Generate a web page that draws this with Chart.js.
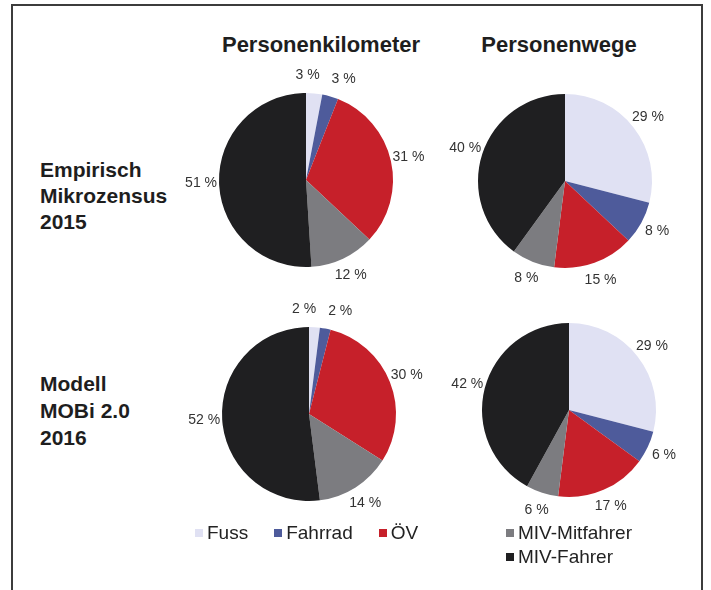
<!DOCTYPE html>
<html>
<head>
<meta charset="utf-8">
<script src="https://cdn.jsdelivr.net/npm/chart.js@4"></script>
<style>
  html, body { margin: 0; padding: 0; background: #fff; }
  body { width: 711px; height: 590px; position: relative; overflow: hidden; font-family: "Liberation Sans", Arial, sans-serif; color: #222; }
  .frame { position: absolute; left: 11px; top: 4px; width: 692px; height: 600px; border: 2px solid #3c3c3c; box-sizing: border-box; }
  .title { position: absolute; top: 32px; font-weight: bold; font-size: 22px; line-height: 26px; white-space: nowrap; transform: translateX(-50%); color: #1e1e1e; }
  .rowlab { position: absolute; left: 40px; font-weight: bold; font-size: 21px; line-height: 26px; color: #1e1e1e; }
  canvas { position: absolute; }
  .leg { position: absolute; font-size: 19px; line-height: 24px; white-space: nowrap; display: flex; align-items: center; color: #222; }
  .leg .item { display: flex; align-items: center; margin-right: 26px; }
  .leg .sw { width: 8px; height: 8px; margin-right: 4px; display: inline-block; }
  .legcol { flex-direction: column; align-items: flex-start; }
  .legcol .item { margin-right: 0; }
</style>
</head>
<body>
<div class="frame"></div>
<div id="t0" class="title" style="left:321px">Personenkilometer</div>
<div id="t1" class="title" style="left:559px">Personenwege</div>
<div class="rowlab" style="top:157px">Empirisch<br>Mikrozensus<br>2015</div>
<div class="rowlab" style="top:370px;line-height:27px">Modell<br>MOBi 2.0<br>2016</div>
<canvas id="c0" width="280" height="280" style="left:166px;top:40px"></canvas>
<canvas id="c1" width="280" height="280" style="left:425px;top:41px"></canvas>
<canvas id="c2" width="280" height="280" style="left:169px;top:274px"></canvas>
<canvas id="c3" width="280" height="280" style="left:429px;top:270px"></canvas>
<div id="legL" class="leg" style="left:195px;top:521px"></div>
<div id="legR" class="leg legcol" style="left:506px;top:521px"></div>
<script>
// Categories and colours
const categories = ["Fuss", "Fahrrad", "ÖV", "MIV-Mitfahrer", "MIV-Fahrer"];
const colors = ["#e0e1f3", "#4e5b9b", "#c6202a", "#7c7c80", "#1f1f21"];

// Values (%)
const pkmEmpirisch = [3, 3, 31, 12, 51];
const wegeEmpirisch = [29, 8, 15, 8, 40];
const pkmModell = [2, 2, 30, 14, 52];
const wegeModell = [29, 6, 17, 6, 42];

const pieRadius = 87;

const labelPlugin = {
  id: 'outsideLabels',
  afterDatasetsDraw(chart) {
    const ctx = chart.ctx;
    const meta = chart.getDatasetMeta(0);
    const data = chart.data.datasets[0].data;
    ctx.save();
    ctx.font = '14px "Liberation Sans", Arial, sans-serif';
    ctx.fillStyle = '#333';
    ctx.textAlign = 'center';
    ctx.textBaseline = 'middle';
    const boxes = meta.data.map((arc, i) => {
      const p = arc.getProps(['x', 'y', 'startAngle', 'endAngle', 'outerRadius'], true);
      const mid = (p.startAngle + p.endAngle) / 2;
      const d = p.outerRadius + 18;
      const txt = data[i] + ' %';
      return { txt, x: p.x + Math.cos(mid) * d, y: p.y + Math.sin(mid) * d, w: ctx.measureText(txt).width, h: 14 };
    });
    // simple overlap resolution: push neighbouring labels apart horizontally
    const gap = 12;
    for (let pass = 0; pass < 3; pass++) {
      for (let i = 0; i < boxes.length; i++) {
        for (let j = i + 1; j < boxes.length; j++) {
          const a = boxes[i], b = boxes[j];
          if (Math.abs(a.y - b.y) < (a.h + b.h) / 2) {
            const need = (a.w + b.w) / 2 + gap;
            const dist = Math.abs(b.x - a.x);
            if (dist < need) {
              const s = (need - dist) / 2;
              if (b.x >= a.x) { a.x -= s; b.x += s; } else { a.x += s; b.x -= s; }
            }
          }
        }
      }
    }
    boxes.forEach(b => ctx.fillText(b.txt, b.x, b.y));
    ctx.restore();
  }
};

function makePie(id, values) {
  new Chart(document.getElementById(id), {
    type: 'pie',
    data: {
      labels: categories,
      datasets: [{ data: values, backgroundColor: colors, borderWidth: 0, hoverOffset: 0 }]
    },
    options: {
      responsive: false,
      animation: false,
      devicePixelRatio: 1,
      radius: pieRadius,
      layout: { padding: 0 },
      plugins: { legend: { display: false }, tooltip: { enabled: false }, title: { display: false } },
      events: []
    },
    plugins: [labelPlugin]
  });
}

makePie('c0', pkmEmpirisch);
makePie('c1', wegeEmpirisch);
makePie('c2', pkmModell);
makePie('c3', wegeModell);

function addLegend(el, idxs) {
  idxs.forEach(i => {
    const it = document.createElement('div');
    it.className = 'item';
    const sw = document.createElement('span');
    sw.className = 'sw';
    sw.style.background = colors[i];
    const tx = document.createElement('span');
    tx.textContent = categories[i];
    it.appendChild(sw);
    it.appendChild(tx);
    el.appendChild(it);
  });
}
addLegend(document.getElementById('legL'), [0, 1, 2]);
addLegend(document.getElementById('legR'), [3, 4]);
</script>
</body>
</html>
